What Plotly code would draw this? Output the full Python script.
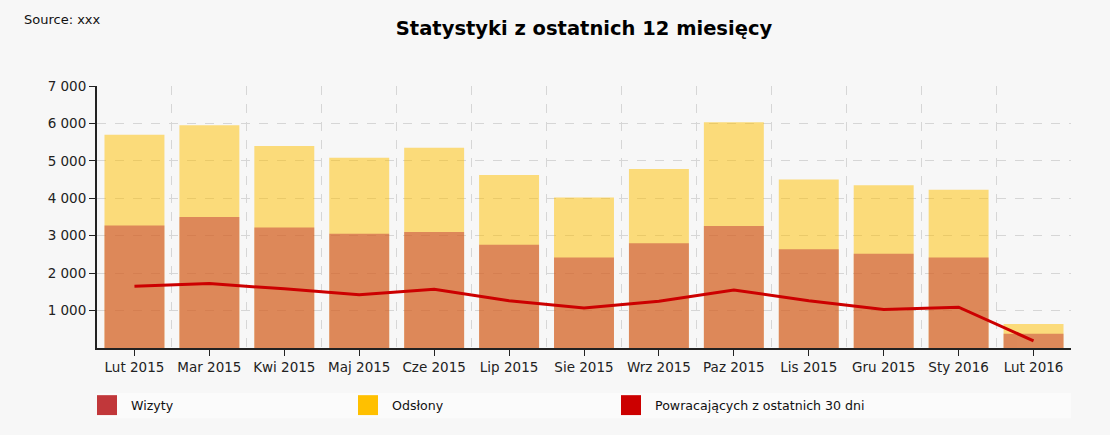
import plotly.graph_objects as go

# data
months = ["Lut 2015", "Mar 2015", "Kwi 2015", "Maj 2015", "Cze 2015", "Lip 2015", "Sie 2015",
          "Wrz 2015", "Paz 2015", "Lis 2015", "Gru 2015", "Sty 2016", "Lut 2016"]
odslony = [5700, 5950, 5400, 5080, 5350, 4620, 4020, 4780, 6030, 4500, 4350, 4230, 640]
wizyty = [3270, 3500, 3220, 3050, 3100, 2760, 2420, 2800, 3260, 2640, 2520, 2420, 380]
powracajacy = [1650, 1720, 1580, 1420, 1570, 1260, 1070, 1250, 1550, 1260, 1030, 1090, 190]
y_ticks = [1000, 2000, 3000, 4000, 5000, 6000, 7000]

legend_items = [("Wizyty", "#c1373a"), ("Odsłony", "#ffc000"), ("Powracających z ostatnich 30 dni", "#cc0000")]

FONT = "Verdana, DejaVu Sans, sans-serif"
BG = "#f7f7f7"

x = list(range(len(months)))

fig = go.Figure()
fig.add_trace(go.Bar(x=x, y=odslony, name="Odsłony", width=0.8,
                     marker=dict(color="#ffc000", line=dict(width=0)), opacity=0.5))
fig.add_trace(go.Bar(x=x, y=wizyty, name="Wizyty", width=0.8,
                     marker=dict(color="#c1373a", line=dict(width=0)), opacity=0.5))
fig.add_trace(go.Scatter(x=x, y=powracajacy, name="Powracających z ostatnich 30 dni",
                         mode="lines", line=dict(color="#cc0000", width=3)))

# legend drawn by hand: a light strip with squares and labels
shapes = [dict(type="rect", xref="paper", yref="paper", x0=0, x1=1, y0=-0.268, y1=-0.172,
               fillcolor="#fbfbfb", line=dict(width=0), layer="below")]
annotations = [dict(text="Source: xxx", xref="paper", yref="paper", x=-0.077, y=1.255,
                    xanchor="left", yanchor="middle", showarrow=False,
                    font=dict(size=13, color="#111", family=FONT))]
leg_px = [97, 358, 621]
for (label, color), px in zip(legend_items, leg_px):
    x0 = (px - 97) / 974
    shapes.append(dict(type="rect", xref="paper", yref="paper", x0=x0, x1=x0 + 20 / 974,
                       y0=-0.256, y1=-0.180, fillcolor=color, line=dict(width=0)))
    annotations.append(dict(text=label, xref="paper", yref="paper", x=x0 + 32 / 974, y=-0.218,
                            xanchor="left", yanchor="middle", showarrow=False,
                            font=dict(size=12.6, color="#111", family=FONT)))

fig.update_layout(
    width=1110, height=435,
    margin=dict(l=97, r=39, t=86, b=87),
    paper_bgcolor=BG, plot_bgcolor=BG,
    barmode="overlay",
    showlegend=False,
    separators=", ",
    font=dict(family=FONT, size=13, color="#222"),
    title=dict(text="<b>Statystyki z ostatnich 12 miesięcy</b>", x=0.5, xref="paper",
               y=0.935, yanchor="middle", font=dict(size=19.5, color="#000", family=FONT)),
    shapes=shapes,
    annotations=annotations,
    xaxis=dict(
        range=[-0.5, len(months) - 0.5],
        tickvals=x, ticktext=months,
        tickfont=dict(size=13.5),
        ticks="outside", ticklen=6, tickcolor="#222", tickwidth=1,
        showgrid=False, zeroline=False,
        showline=True, linecolor="#222", linewidth=2,
        minor=dict(tickvals=[i + 0.5 for i in x], showgrid=True, gridcolor="#d6d6d6",
                   griddash="dash", gridwidth=1, ticks=""),
    ),
    yaxis=dict(
        range=[0, 7000],
        tickvals=y_ticks, tickformat=",d",
        tickfont=dict(size=13.5),
        ticks="outside", ticklen=6, tickcolor="#222", tickwidth=1,
        showgrid=True, gridcolor="#d6d6d6", griddash="dash", gridwidth=1,
        zeroline=False, showline=True, linecolor="#222", linewidth=2,
    ),
)

# the page is photographed at 0,0 -- drop the default body margin
fig.write_html("out.html", config={"displayModeBar": False},
               post_script="document.body.style.margin='0';"
                           "document.body.style.background='#f7f7f7';")
